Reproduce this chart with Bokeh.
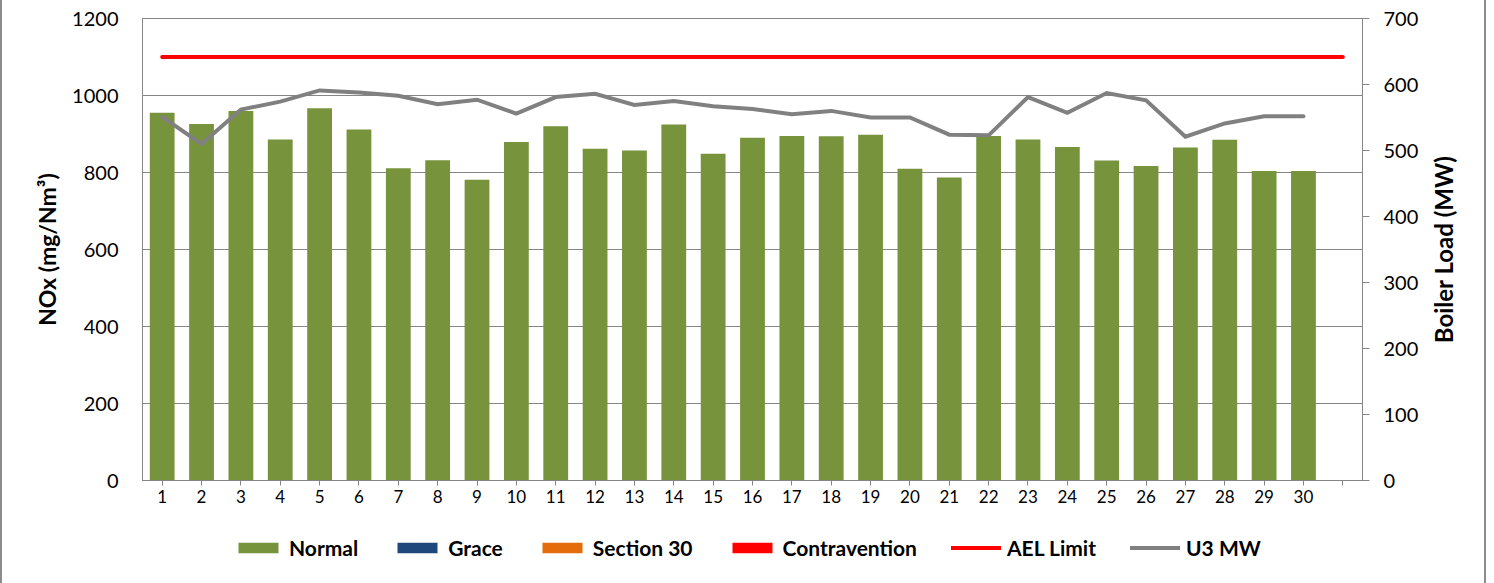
from bokeh.plotting import figure
from bokeh.layouts import column, row
from bokeh.models import Range1d, LinearAxis, FixedTicker, Legend, LegendItem, ColumnDataSource
from bokeh.embed import file_html
from bokeh.resources import INLINE

days = list(range(1, 31))
normal = [955, 926, 960, 886, 967, 912, 811, 832, 781, 879, 920, 862, 857, 925, 849,
          890, 895, 894, 898, 810, 787, 895, 886, 866, 831, 817, 865, 885, 804, 804]
grace = [0] * 30
section30 = [0] * 30
contravention = [0] * 30
u3_mw = [551, 510, 562, 574, 591, 588, 583, 570, 577, 556, 581, 586, 569, 575, 567,
         563, 555, 560, 550, 550, 524, 523, 581, 557, 587, 576, 521, 541, 552, 552]
ael_days = list(range(1, 32))
ael_limit = [1100] * 31
left_ticks = [0, 200, 400, 600, 800, 1000, 1200]
right_ticks = [0, 100, 200, 300, 400, 500, 600, 700]
series_names = ["Normal", "Grace", "Section 30", "Contravention", "AEL Limit", "U3 MW"]
series_colors = ["#77933C", "#1F497D", "#E46C0A", "#FF0000", "#FF0000", "#808080"]

FONT = "Lato"
AXIS_GRAY = "#868686"
EDGE = "2px solid #8c8c8c"

p = figure(frame_width=1218, frame_height=462, output_backend="svg", toolbar_location=None,
           x_range=Range1d(0.5, 31.5), y_range=Range1d(0, 1200),
           min_border_left=140, min_border_right=60, min_border_top=18, min_border_bottom=30)
p.styles = {"border-left": EDGE}
p.extra_y_ranges = {"mw": Range1d(0, 700)}
p.outline_line_color = AXIS_GRAY
p.outline_line_width = 1
p.background_fill_color = "white"
p.border_fill_color = "white"

src = ColumnDataSource(dict(x=days, normal=normal, grace=grace, section30=section30,
                            contravention=contravention, mw=u3_mw))

p.vbar(x="x", top="normal", width=0.63, source=src, fill_color=series_colors[0], line_color=None)
p.vbar(x="x", top="grace", width=0.63, source=src, fill_color=series_colors[1], line_color=None)
p.vbar(x="x", top="section30", width=0.63, source=src, fill_color=series_colors[2], line_color=None)
p.vbar(x="x", top="contravention", width=0.63, source=src, fill_color=series_colors[3], line_color=None)
p.line(ael_days, ael_limit, line_color=series_colors[4], line_width=4, line_cap="round")
p.line(x="x", y="mw", source=src, line_color=series_colors[5], line_width=4,
       line_cap="round", line_join="miter", y_range_name="mw")

# x axis
xa = p.xaxis[0]
xa.ticker = FixedTicker(ticks=list(range(1, 32)))
xa.major_label_overrides = {31: ""}
xa.major_tick_out = 5
xa.major_tick_in = 0
xa.minor_tick_out = 0
xa.minor_tick_in = 0
xa.axis_line_color = AXIS_GRAY
xa.major_tick_line_color = AXIS_GRAY
xa.major_label_text_font = FONT
xa.major_label_text_font_size = "17px"
xa.major_label_text_color = "black"
xa.major_label_standoff = 4

# left axis
ya = p.yaxis[0]
ya.ticker = FixedTicker(ticks=left_ticks)
ya.major_tick_out = 0
ya.major_tick_in = 0
ya.minor_tick_out = 0
ya.minor_tick_in = 0
ya.axis_line_color = AXIS_GRAY
ya.major_label_text_font = FONT
ya.major_label_text_font_size = "20px"
ya.major_label_text_color = "black"
ya.major_label_standoff = 24
ya.axis_label = "NOx (mg/Nm³)"
ya.axis_label_text_font = FONT
ya.axis_label_text_font_style = "bold"
ya.axis_label_text_font_size = "23px"
ya.axis_label_text_color = "black"
ya.axis_label_standoff = 8

# right axis (ticks and numbers)
ra = LinearAxis(y_range_name="mw", ticker=FixedTicker(ticks=right_ticks))
ra.major_tick_out = 7
ra.major_tick_in = 0
ra.minor_tick_out = 0
ra.minor_tick_in = 0
ra.axis_line_color = AXIS_GRAY
ra.major_tick_line_color = AXIS_GRAY
ra.major_label_text_font = FONT
ra.major_label_text_font_size = "20px"
ra.major_label_text_color = "black"
ra.major_label_standoff = 14
p.add_layout(ra, "right")

p.xgrid.grid_line_color = None
p.ygrid[0].grid_line_color = AXIS_GRAY
p.ygrid[0].grid_line_width = 1

# narrow strip carrying the right-hand axis title (reads bottom to top)
plab = figure(frame_width=1, frame_height=462, output_backend="svg", toolbar_location=None,
              x_range=Range1d(0, 1), y_range=Range1d(0, 700), x_axis_type=None,
              min_border_left=40, min_border_right=23, min_border_top=18, min_border_bottom=30)
plab.styles = {"border-right": EDGE}
plab.outline_line_color = None
plab.grid.grid_line_color = None
plab.background_fill_color = "white"
plab.border_fill_color = "white"
la = plab.yaxis[0]
la.ticker = FixedTicker(ticks=[])
la.axis_line_color = None
la.major_tick_line_color = None
la.minor_tick_line_color = None
la.major_tick_out = 0
la.major_tick_in = 0
la.minor_tick_out = 0
la.minor_tick_in = 0
la.major_label_text_font_size = "0px"
la.axis_label = "Boiler Load (MW)"
la.axis_label_text_font = FONT
la.axis_label_text_font_style = "bold"
la.axis_label_text_font_size = "24px"
la.axis_label_text_color = "black"
la.axis_label_standoff = 3

# legend strip below the chart (swatch renderers sit outside the visible range)
pl = figure(frame_width=1218, frame_height=73, output_backend="svg", toolbar_location=None,
            x_range=Range1d(0, 1), y_range=Range1d(0, 1), x_axis_type=None, y_axis_type=None,
            min_border_left=140, min_border_right=124, min_border_top=0, min_border_bottom=0)
pl.styles = {"border-left": EDGE, "border-right": EDGE}
pl.outline_line_color = None
pl.grid.grid_line_color = None
pl.background_fill_color = "white"
pl.border_fill_color = "white"

swatch_src = ColumnDataSource(dict(x=[-10, -9], y=[-10, -10]))
items = []
for name, col in zip(series_names[:4], series_colors[:4]):
    r = pl.vbar(x="x", top="y", width=0.5, source=swatch_src, fill_color=col, line_color=None)
    items.append(LegendItem(label=name, renderers=[r]))
for name, col in zip(series_names[4:], series_colors[4:]):
    r = pl.line(x="x", y="y", source=swatch_src, line_color=col, line_width=4, line_cap="round")
    items.append(LegendItem(label=name, renderers=[r]))

legend = Legend(items=items, orientation="horizontal", location=(91, 23))
legend.label_text_font = FONT
legend.label_text_font_style = "bold"
legend.label_text_font_size = "21px"
legend.label_text_color = "black"
legend.glyph_width = 50
legend.glyph_height = 13
legend.label_standoff = 6
legend.spacing = 34
legend.border_line_color = None
legend.background_fill_color = None
legend.margin = 0
legend.padding = 6
pl.add_layout(legend, "center")

layout = column(row(p, plab, spacing=0), pl, spacing=0)
open("out.html", "w").write(file_html(layout, INLINE))
